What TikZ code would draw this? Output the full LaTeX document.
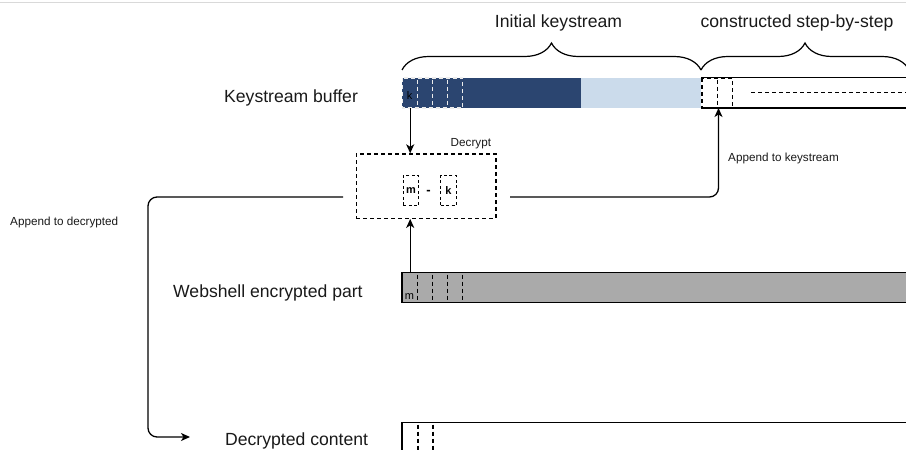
\documentclass[tikz,border=0pt]{standalone}
\usepackage{fontspec}
\setmainfont{Liberation Sans}
\usetikzlibrary{arrows.meta,decorations.pathreplacing,calc}
\definecolor{ksdark}{HTML}{2B4570}
\definecolor{kslight}{HTML}{CBDBEB}
\definecolor{encgray}{HTML}{AAAAAA}
\begin{document}
\begin{tikzpicture}[x=1pt,y=-1pt,
  biglabel/.style={font=\fontsize{17.6}{20}\selectfont, inner sep=0pt, anchor=base west, text=black!90},
  smalllabel/.style={font=\fontsize{11.7}{13}\selectfont, inner sep=0pt, anchor=base west, text=black!90},
  cellnode/.style={minimum width=16pt, minimum height=30pt, inner sep=0pt, anchor=north west},
  dsh/.style={line width=1.1pt, dash pattern=on 4pt off 3pt},
  conn/.style={line width=1.3pt, -{Stealth[length=9pt,width=8pt,inset=2.5pt]}},
  plain/.style={line width=1.2pt},
  brc/.style={decorate, decoration={brace, amplitude=27pt}, line width=1.2pt}
]
\useasboundingbox (0,0) rectangle (906,450);
\draw[gray!30, line width=1.5pt] (0,2.5) -- (906,2.5);

% labels
\node[biglabel, anchor=base] (tinit) at (558.5,27) {Initial keystream};
\node[biglabel, anchor=base] (tcons) at (797,27) {constructed step-by-step};
\node[biglabel] (tks) at (224,102) {Keystream buffer};
\node[biglabel] (tws) at (173,297.5) {Webshell encrypted part};
\node[biglabel] (tdc) at (225,445) {Decrypted content};
\node[smalllabel] (tdec) at (450.5,146.5) {Decrypt};
\node[smalllabel] (tapk) at (728,161.5) {Append to keystream};
\node[smalllabel] (tapd) at (10,225) {Append to decrypted};

% braces
\draw[brc] (402,70) -- (701,70);
\draw[brc] (701,70) -- (909,70);

% keystream buffer
\fill[ksdark] (402,77.5) rectangle (581,108);
\fill[kslight] (581,77.5) rectangle (701,108);
\draw[plain] (701,77.5) -- (912,77.5);
\draw[plain] (701,108) -- (912,108);
\node[cellnode] (k1) at (402,77.7) {};
\draw[dsh, white!85!gray] (402.5,78) rectangle (462.5,108);
\foreach \xx in {417.5,432.5,447.5} \draw[dsh, white!85!gray] (\xx,79.5) -- (\xx,107);
\node[font=\fontsize{11}{12}\selectfont, inner sep=0pt] (kt) at (409.5,96) {k};
\draw[dsh] (702,78) rectangle (732.5,108);
\draw[dsh] (717.5,79.5) -- (717.5,107);
\coordinate (ksin) at (718.5,108);
\draw[dsh] (751,92.7) -- (906,92.7);

% decrypt box
\node[draw, dsh, line width=1.2pt, minimum width=139.6pt, minimum height=64.4pt, inner sep=0pt, anchor=north west] (dec) at (355.7,153.3) {};
\node[draw, line width=1.1pt, dash pattern=on 3pt off 2.5pt, minimum width=15.6pt, minimum height=30pt, inner sep=0pt, font=\bfseries\fontsize{11}{12}\selectfont, anchor=north west] (dm) at (402.7,175) {m};
\node[font=\bfseries\fontsize{13}{14}\selectfont, inner sep=0pt] (dminus) at (428.5,192) {-};
\node[draw, line width=1.1pt, dash pattern=on 3pt off 2.5pt, minimum width=15.6pt, minimum height=30pt, inner sep=0pt, font=\bfseries\fontsize{11}{12}\selectfont, anchor=north west] (dk) at (440,175) {k};

% webshell encrypted part
\draw[fill=encgray, line width=1.2pt] (402,272.7) rectangle (912,302.7);
\node[cellnode] (w1) at (402,272.7) {};
\foreach \xx in {417.5,432.5,447.5,462.5} \draw[dsh] (\xx,274.5) -- (\xx,301);
\node[font=\fontsize{11}{12}\selectfont, inner sep=0pt, anchor=base] (wt) at (409.5,299) {m};

% decrypted content
\draw[line width=1.2pt] (912,422.7) -- (402,422.7) -- (402,455);
\draw[dsh] (418,424.5) -- (418,452);
\draw[dsh] (433,424.5) -- (433,452);
\coordinate (dcin) at (190,437);

% connectors
\draw[conn] (k1.south) -- (k1.south |- dec.north);
\draw[conn] (w1.north) -- (w1.north |- dec.south);
\coordinate (outR) at (510,197);
\draw[conn, rounded corners=9pt] (outR) -| (ksin);
\coordinate (outL) at (343,197);
\draw[conn, rounded corners=9pt] (outL) -- (148,197) -- (148,437) -- (dcin);
\end{tikzpicture}
\end{document}
